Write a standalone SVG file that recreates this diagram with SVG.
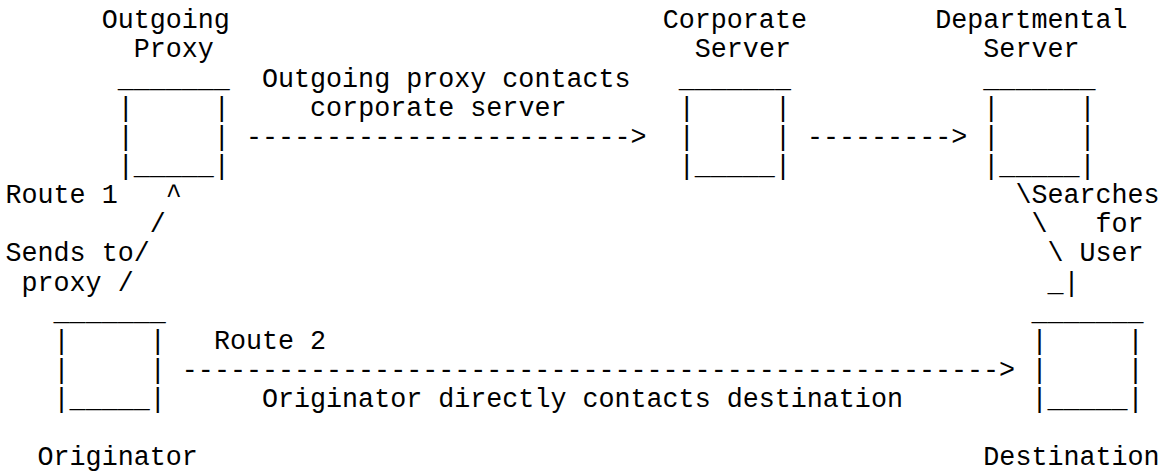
<svg xmlns="http://www.w3.org/2000/svg" width="1162" height="472" viewBox="0 0 1162 472" xml:space="preserve">
<style>
text { font-family: "Liberation Mono", "Courier New", monospace; font-size: 26.71px; fill: #000; white-space: pre; }
</style>
<rect width="1162" height="472" fill="#fff"/>
<g id="outgoing-proxy">
<text x="101.68" y="28.3">Outgoing</text>
<text x="133.74" y="57.4">Proxy</text>
<text x="117.71" y="86.6">_______</text>
<text x="117.71" y="115.7">|     |</text>
<text x="117.71" y="144.8">|     |</text>
<text x="117.71" y="174.0">|_____|</text>
</g>
<g id="corporate-server">
<text x="662.73" y="28.3">Corporate</text>
<text x="694.79" y="57.4">Server</text>
<text x="678.76" y="86.6">_______</text>
<text x="678.76" y="115.7">|     |</text>
<text x="678.76" y="144.8">|     |</text>
<text x="678.76" y="174.0">|_____|</text>
</g>
<g id="departmental-server">
<text x="935.24" y="28.3">Departmental</text>
<text x="983.33" y="57.4">Server</text>
<text x="983.33" y="86.6">_______</text>
<text x="983.33" y="115.7">|     |</text>
<text x="983.33" y="144.8">|     |</text>
<text x="983.33" y="174.0">|_____|</text>
</g>
<g id="originator">
<text x="53.59" y="319.6">_______</text>
<text x="53.59" y="348.7">|     |</text>
<text x="53.59" y="377.9">|     |</text>
<text x="53.59" y="407.0">|_____|</text>
<text x="37.56" y="465.3">Originator</text>
</g>
<g id="destination">
<text x="1031.42" y="319.6">_______</text>
<text x="1031.42" y="348.7">|     |</text>
<text x="1031.42" y="377.9">|     |</text>
<text x="1031.42" y="407.0">|_____|</text>
<text x="983.33" y="465.3">Destination</text>
</g>
<g id="connectors">
<text x="261.98" y="86.6">Outgoing proxy contacts</text>
<text x="310.07" y="115.7">corporate server</text>
<text x="245.95" y="144.8">------------------------&gt;</text>
<text x="807.0" y="144.8">---------&gt;</text>
<text x="5.5" y="203.1">Route 1   ^</text>
<text x="149.77" y="232.2">/</text>
<text x="5.5" y="261.3">Sends to/</text>
<text x="21.53" y="290.5">proxy /</text>
<text x="1015.39" y="203.1">\Searches</text>
<text x="1031.42" y="232.2">\   for</text>
<text x="1047.45" y="261.3">\ User</text>
<text x="1047.45" y="290.5">_|</text>
<text x="213.89" y="348.7">Route 2</text>
<text x="181.83" y="377.9">---------------------------------------------------&gt;</text>
<text x="261.98" y="407.0">Originator directly contacts destination</text>
</g>
</svg>
